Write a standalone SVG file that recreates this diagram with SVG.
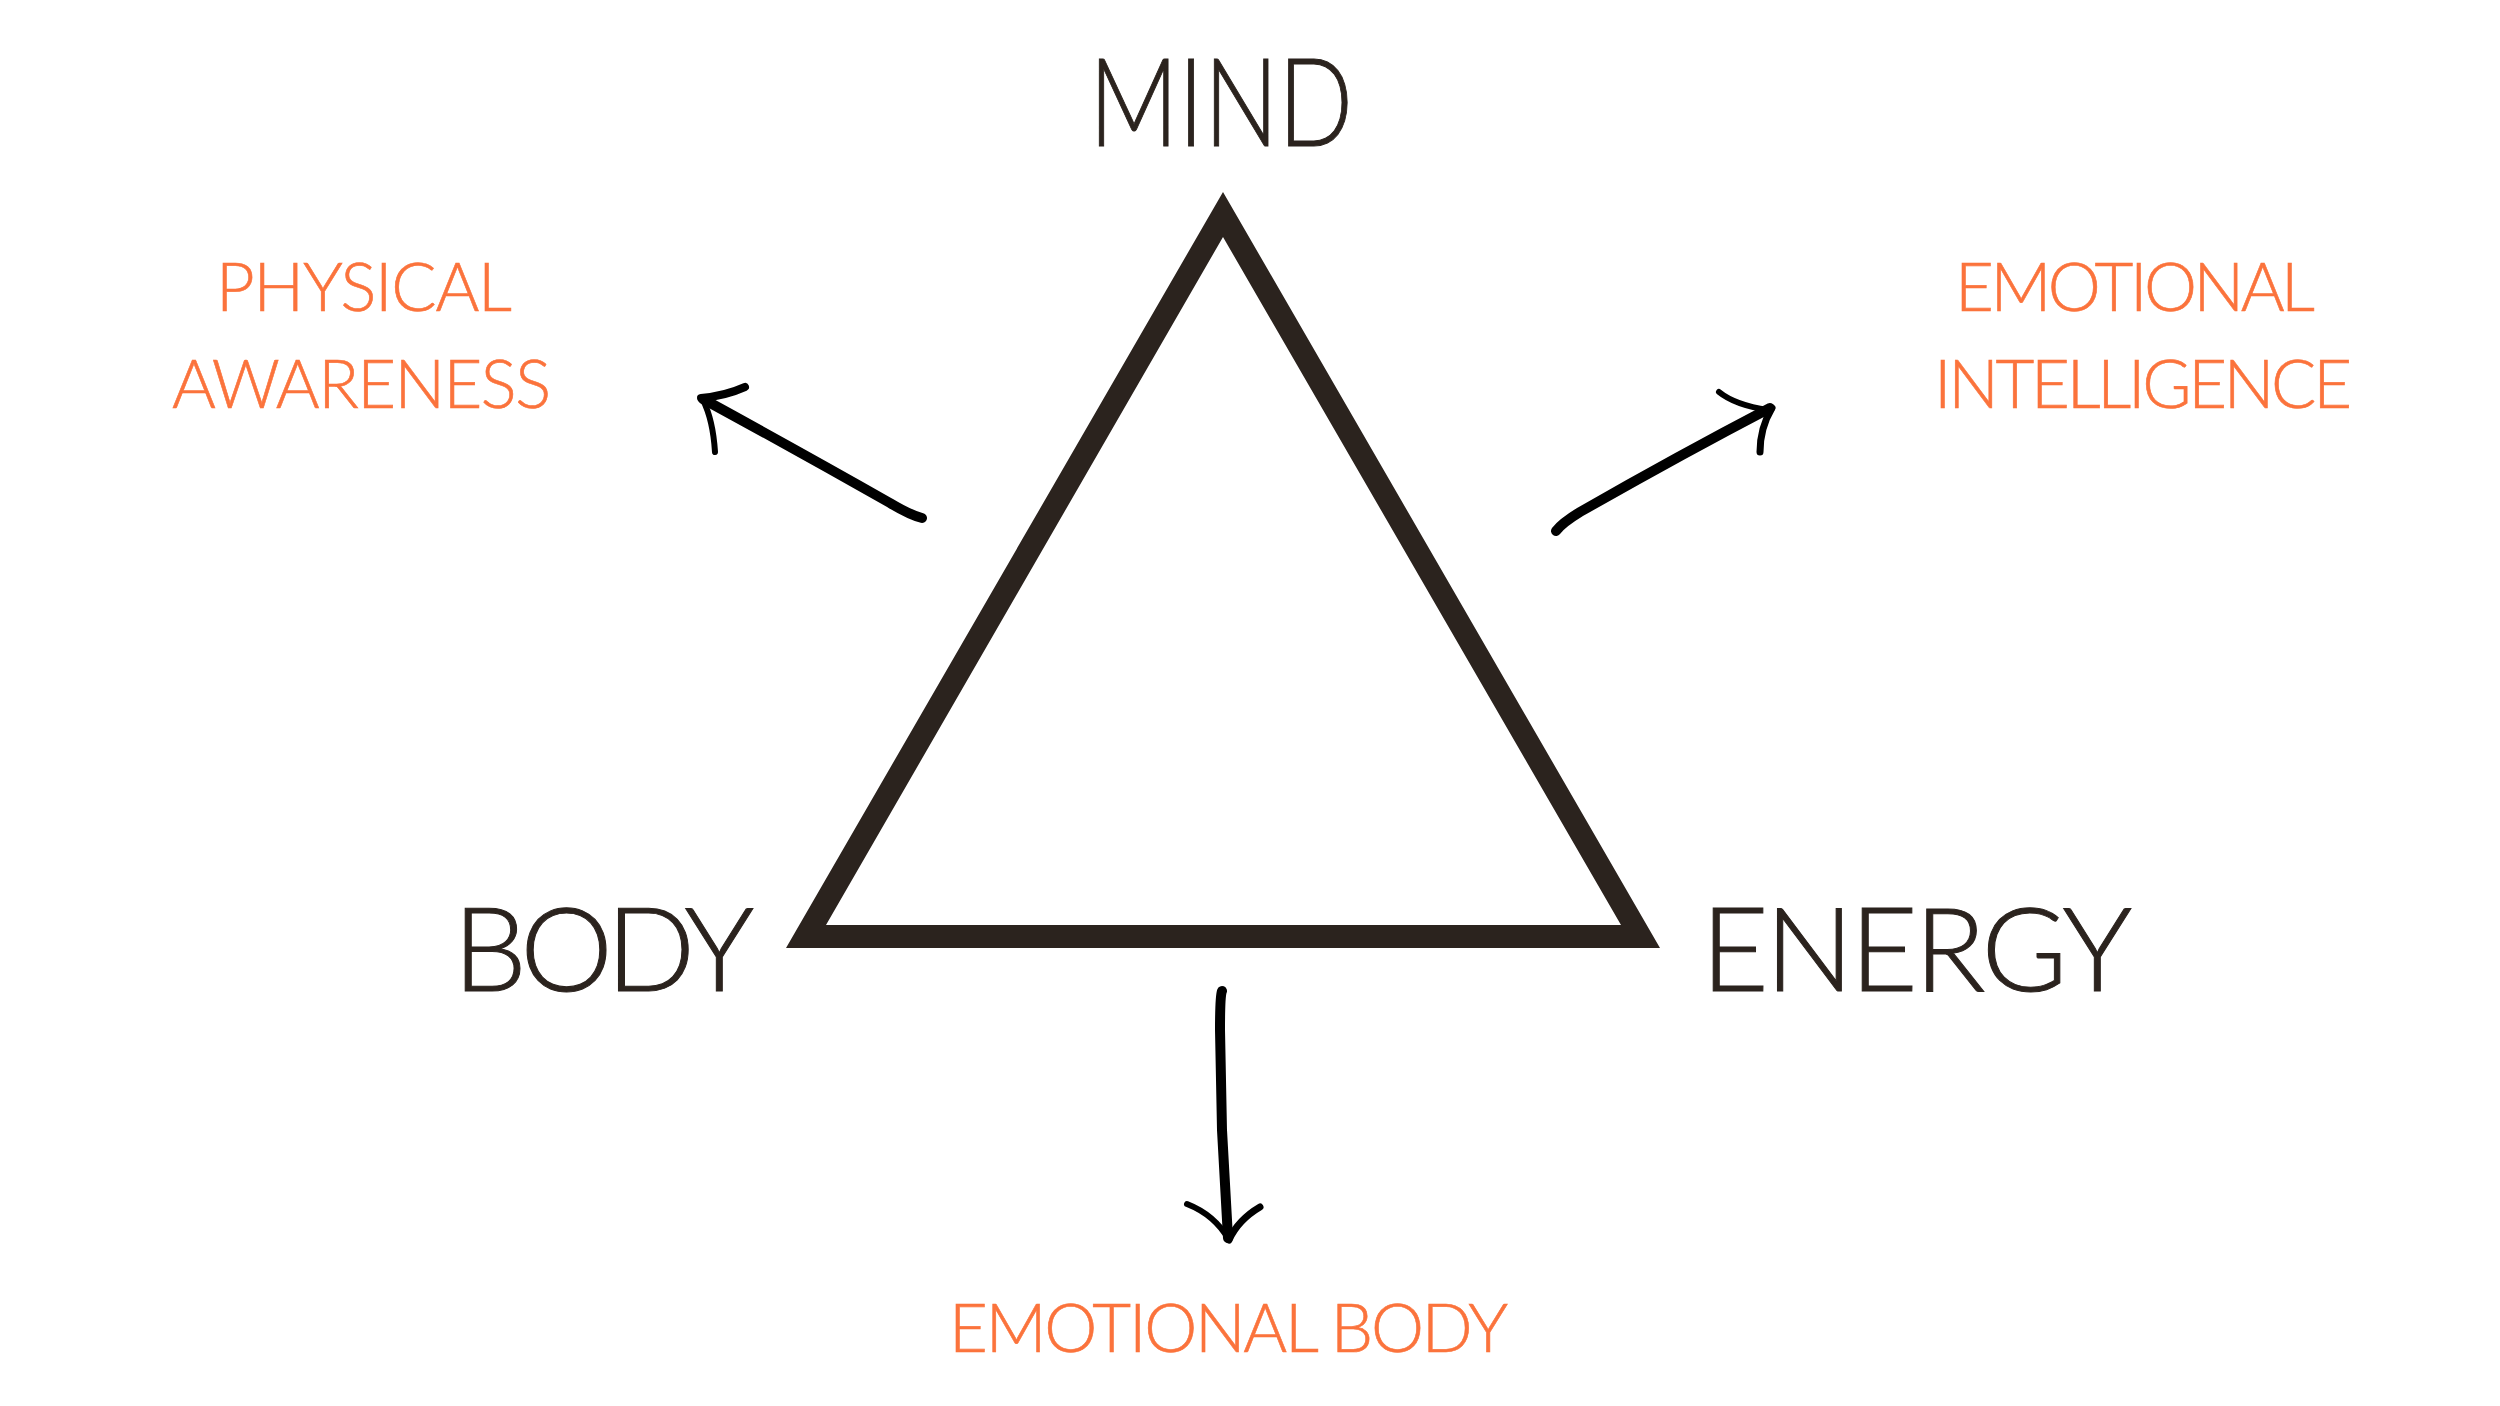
<svg xmlns="http://www.w3.org/2000/svg" width="2500" height="1406" viewBox="0 0 2500 1406">
<style>
.dark{fill:#2b231e;stroke:#2b231e;stroke-width:1;font-family:Lato,"Noto Sans","Liberation Sans",sans-serif;font-weight:300;font-size:117px}
.mind{font-size:122px}
.orange{fill:#fb733c;stroke:#fb733c;stroke-width:0.6;font-family:Lato,"Noto Sans","Liberation Sans",sans-serif;font-weight:300;font-size:67px}
.arrow{fill:none;stroke:#000;stroke-linecap:round;stroke-linejoin:round}
</style>
<rect width="2500" height="1406" fill="#ffffff"/>
<g id="triangle">
<path fill="#2b231e" fill-rule="evenodd" d="M1223 192 L1660 948 L786 948 Z M1223 237 L826 925 L1621 925 Z"/>
</g>
<g id="node-mind"><text class="dark mind" x="1089" y="146" textLength="264" lengthAdjust="spacingAndGlyphs">MIND</text></g>
<g id="node-body"><text class="dark" x="453" y="991" textLength="301">BODY</text></g>
<g id="node-energy"><text class="dark" x="1701" y="991" textLength="431">ENERGY</text></g>
<g id="node-physical-awareness">
<text class="orange" x="216" y="311" textLength="296">PHYSICAL</text>
<text class="orange" x="172" y="408" textLength="379">AWARENESS</text>
</g>
<g id="node-emotional-intelligence">
<text class="orange" x="1955" y="311" textLength="360">EMOTIONAL</text>
<text class="orange" x="1934" y="408" textLength="418">INTELLIGENCE</text>
</g>
<g id="node-emotional-body">
<text class="orange" x="949" y="1352" textLength="559">EMOTIONAL BODY</text>
</g>
<g id="connectors">
<g id="arrow-left">
<path class="arrow" stroke-width="10" d="M922 518 Q910 515 890 503 Q800 452 703 399"/>
<path class="arrow" stroke-width="8" d="M701 398 Q725 396 745 387"/>
<path class="arrow" stroke-width="6" d="M703 400 Q713 420 715 452"/>
</g>
<g id="arrow-right">
<path class="arrow" stroke-width="10" d="M1556 531 Q1562 523 1580 512 Q1680 455 1770 408"/>
<path class="arrow" stroke-width="6" d="M1719 392 Q1735 405 1768 410"/>
<path class="arrow" stroke-width="7" d="M1772 408 Q1760 428 1760 452"/>
</g>
<g id="arrow-down">
<path class="arrow" stroke-width="10" d="M1222 991 Q1220 996 1220 1030 L1222 1130 L1228 1238"/>
<path class="arrow" stroke-width="6" d="M1187 1204 Q1215 1215 1229 1240"/>
<path class="arrow" stroke-width="7" d="M1260 1207 Q1238 1220 1229 1240"/>
</g>
</g>
</svg>
